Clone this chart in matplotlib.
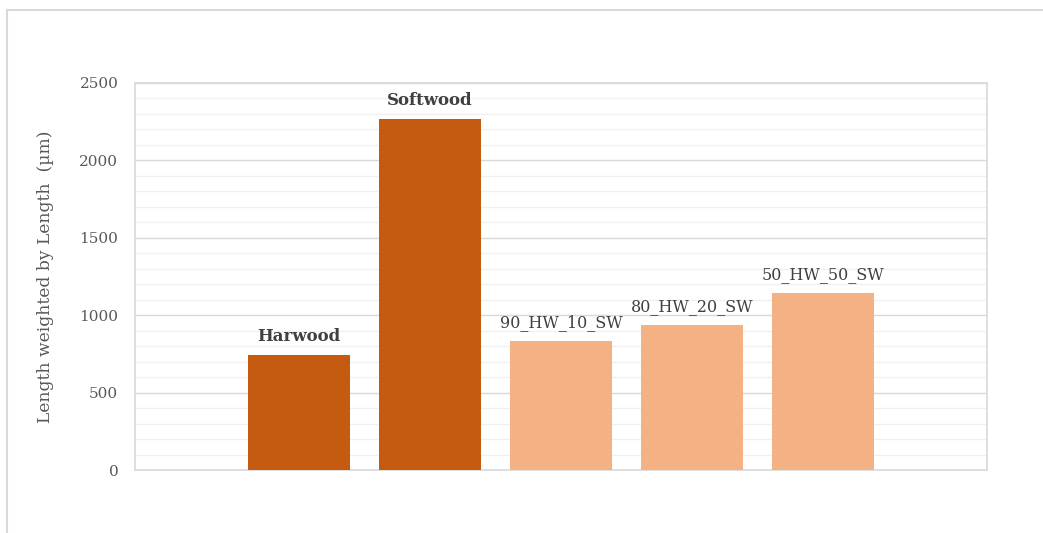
import matplotlib
matplotlib.use("Agg")
import matplotlib.pyplot as plt
from matplotlib.lines import Line2D
from matplotlib.ticker import MultipleLocator

# Fibre length data
categories = ["Harwood", "Softwood", "90_HW_10_SW", "80_HW_20_SW", "50_HW_50_SW"]
values = [743, 2267, 833, 937, 1143]
pure_sample = [True, True, False, False, False]

dark_color = "#C55A11"
light_color = "#F4B183"
text_color = "#404040"
axis_text = "#595959"

W, H = 1043, 533
fig = plt.figure(figsize=(W / 100, H / 100), dpi=100)
plt.rcParams["font.family"] = ["DejaVu Serif"]

left, right, top, bottom = 135, 987, 83, 470
ax = fig.add_axes([left / W, 1 - bottom / H, (right - left) / W, (bottom - top) / H])

x = list(range(len(categories)))
colors = [dark_color if p else light_color for p in pure_sample]
bars = ax.bar(x, values, width=0.786, color=colors, zorder=3)

for xi, v, name, p in zip(x, values, categories, pure_sample):
    ax.annotate(name, (xi, v), xytext=(0, 7), textcoords="offset points",
                ha="center", va="bottom", fontsize=12 if p else 11.5,
                color=text_color, fontweight="bold" if p else "normal")

ax.set_xlim(-1.252, 5.252)
ax.set_ylim(0, 2500)
ax.yaxis.set_major_locator(MultipleLocator(500))
ax.yaxis.set_minor_locator(MultipleLocator(100))
ax.grid(which="major", axis="y", color="#D9D9D9", linewidth=1.0, zorder=1)
ax.grid(which="minor", axis="y", color="#F0F0F0", linewidth=1.0, zorder=0)
ax.set_xticks([])
ax.tick_params(axis="y", which="both", length=0, labelsize=11,
               labelcolor=axis_text, pad=12)
for s in ax.spines.values():
    s.set_color("#D9D9D9")
    s.set_linewidth(1.2)

ax.set_ylabel("Length weighted by Length  (µm)", fontsize=12.3, color=axis_text,
              labelpad=18)

# Outer chart border (top and left edges)
fig.add_artist(Line2D([7 / W, 7 / W], [0, 1 - 10 / H], transform=fig.transFigure,
                      color="#D9D9D9", linewidth=1.5))
fig.add_artist(Line2D([7 / W, 1042 / W], [1 - 10 / H, 1 - 10 / H], transform=fig.transFigure,
                      color="#D9D9D9", linewidth=1.5))

fig.savefig("out.png", dpi=100, facecolor="white")
